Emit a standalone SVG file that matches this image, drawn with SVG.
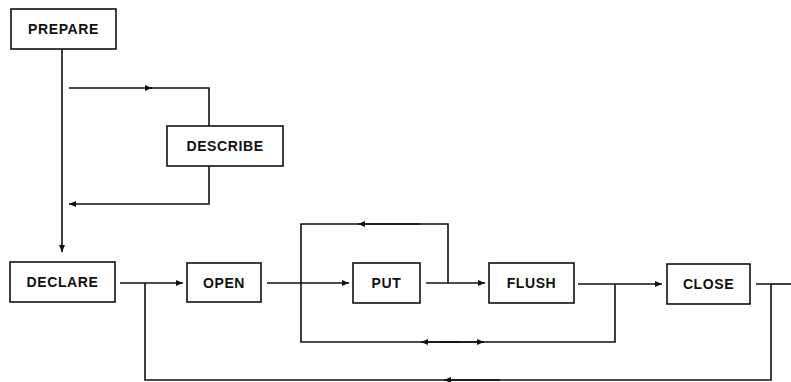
<svg xmlns="http://www.w3.org/2000/svg" width="791" height="382" viewBox="0 0 791 382">
<style>
.box{fill:#fff;stroke:#111;stroke-width:1.6}
.lbl{font-family:"Liberation Sans",Arial,sans-serif;font-size:14px;font-weight:bold;fill:#111;text-anchor:middle;letter-spacing:0.6px}
.ln{fill:none;stroke:#111;stroke-width:1.6}
</style>
<defs>
<marker id="a" viewBox="0 0 7 6" refX="7" refY="3" markerWidth="7" markerHeight="6" markerUnits="userSpaceOnUse" orient="auto">
<path d="M0,0 L7,3 L0,6 z" fill="#111"/>
</marker>
</defs>
<rect width="791" height="382" fill="#fff"/>
<g id="connectors">
<path class="ln" d="M62,49 V252" marker-end="url(#a)"/>
<path class="ln" d="M69,88 H152" marker-end="url(#a)"/>
<path class="ln" d="M150,88 H209 V126"/>
<path class="ln" d="M209,166 V204 H69" marker-end="url(#a)"/>
<path class="ln" d="M120,283 H183" marker-end="url(#a)"/>
<path class="ln" d="M145,283 V380 H771 V284 H756"/>
<path class="ln" d="M771,284 H791"/>
<path class="ln" d="M500,380 H444" marker-end="url(#a)"/>
<path class="ln" d="M267,283 H349" marker-end="url(#a)"/>
<path class="ln" d="M426,283 H485" marker-end="url(#a)"/>
<path class="ln" d="M448,283 V224 H301 V342 H615 V284"/>
<path class="ln" d="M420,224 H358" marker-end="url(#a)"/>
<path class="ln" d="M460,342 H421" marker-end="url(#a)"/>
<path class="ln" d="M440,342 H484" marker-end="url(#a)"/>
<path class="ln" d="M578,284 H662" marker-end="url(#a)"/>
</g>
<g id="prepare"><rect class="box" x="11" y="9" width="105" height="40"/><text class="lbl" x="63.5" y="34">PREPARE</text></g>
<g id="describe"><rect class="box" x="167" y="126" width="116" height="40"/><text class="lbl" x="225" y="151">DESCRIBE</text></g>
<g id="declare"><rect class="box" x="10" y="262" width="105" height="40"/><text class="lbl" x="62.5" y="287">DECLARE</text></g>
<g id="open"><rect class="box" x="187" y="263" width="74" height="39"/><text class="lbl" x="224" y="288">OPEN</text></g>
<g id="put"><rect class="box" x="353" y="263" width="67" height="40"/><text class="lbl" x="386.5" y="288">PUT</text></g>
<g id="flush"><rect class="box" x="489" y="263" width="85" height="40"/><text class="lbl" x="531.5" y="288">FLUSH</text></g>
<g id="close"><rect class="box" x="667" y="264" width="83" height="40"/><text class="lbl" x="708.5" y="289">CLOSE</text></g>
</svg>
